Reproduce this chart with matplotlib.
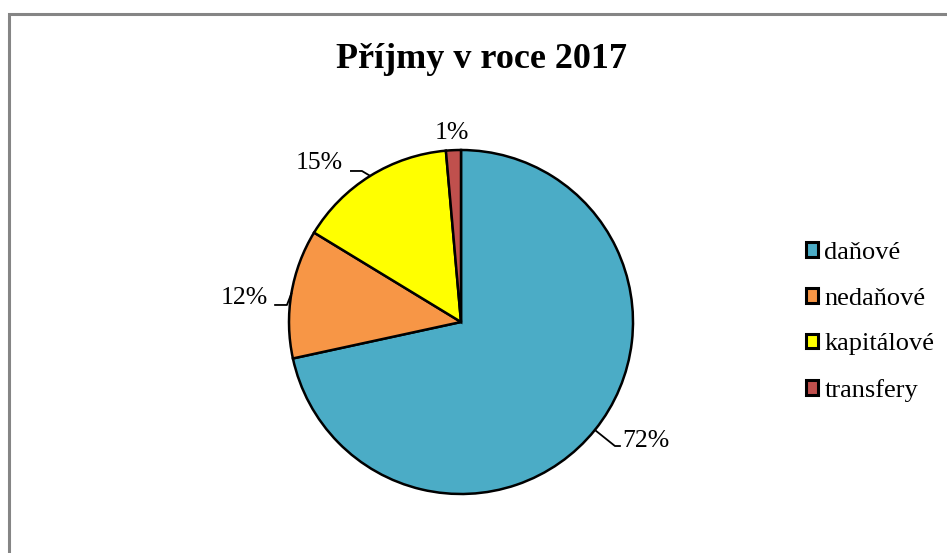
import numpy as np
import matplotlib.pyplot as plt
from matplotlib.patches import Rectangle

# data
kategorie = ['daňové', 'nedaňové', 'kapitálové', 'transfery']
hodnoty = [71.6, 12.1, 14.9, 1.4]
barvy = ['#4BACC6', '#F79646', '#FFFF00', '#C0504D']

plt.rcParams['font.family'] = ['Liberation Serif', 'DejaVu Serif']

fig = plt.figure(figsize=(9.47, 5.53), dpi=100)
# pie centre ~ (461, 322) px, radius 172 px
ax = fig.add_axes([(461 - 172) / 947, (553 - 322 - 172) / 553, 344 / 947, 344 / 553])

wedges, _ = ax.pie(hodnoty, colors=barvy, startangle=90, counterclock=False,
                   radius=1, wedgeprops=dict(edgecolor='black', linewidth=1.8))
ax.set_xlim(-1, 1)
ax.set_ylim(-1, 1)
ax.set_aspect('equal')
ax.axis('off')

# popisky (text pos, ha, leader end / elbow or None)
popisky_pos = [((0.936, -0.692), 'left', [(0.924, -0.721), (0.895, -0.721)]),
               ((-1.122, 0.14), 'right', [(-1.081, 0.099), (-1.012, 0.099)]),
               ((-0.686, 0.924), 'right', [(-0.640, 0.878), (-0.576, 0.878)]),
               ((-0.052, 1.099), 'center', None)]

celkem = sum(hodnoty)
for w, v, (pos, ha, vodic) in zip(wedges, hodnoty, popisky_pos):
    ax.text(pos[0], pos[1], '%d%%' % round(v / celkem * 100), ha=ha, va='center',
            fontsize=18.5, clip_on=False)
    if vodic:
        a = np.deg2rad((w.theta1 + w.theta2) / 2)
        xs = [vodic[0][0], vodic[1][0], np.cos(a)]
        ys = [vodic[0][1], vodic[1][1], np.sin(a)]
        ax.plot(xs, ys, color='black', lw=1.3, clip_on=False)

fig.text(481 / 947, 1 - 60 / 553, 'Příjmy v roce 2017', ha='center', va='center',
         fontsize=26, fontweight='bold')

leg = fig.legend(wedges, kategorie, loc='center left', bbox_to_anchor=(806 / 947, 1 - 322 / 553),
                 frameon=False, fontsize=19, handlelength=0.47, handleheight=0.47,
                 handletextpad=0.22, labelspacing=0.9, borderpad=0, borderaxespad=0)
for h in leg.legend_handles:
    h.set_linewidth(2.2)

# ramecek
fig.patches.append(Rectangle((9 / 947, -0.1), 2, 1 - 14 / 553 + 0.1, fill=False,
                             edgecolor='#858585', lw=2.2, transform=fig.transFigure))

plt.savefig('out.png', dpi=100)
